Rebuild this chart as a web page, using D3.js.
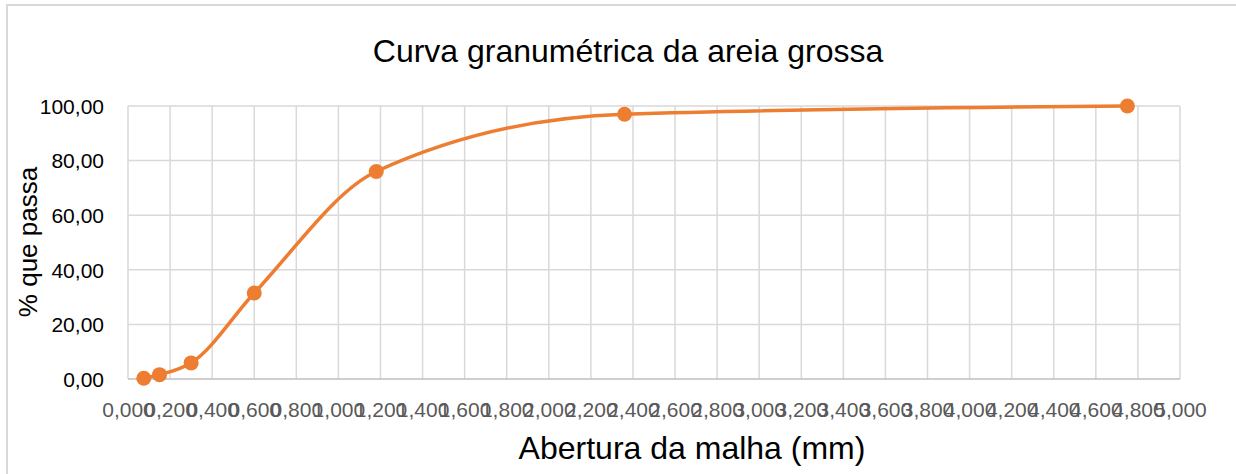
<!DOCTYPE html>
<html>
<head>
<meta charset="utf-8">
<script src="https://cdn.jsdelivr.net/npm/d3@7"></script>
<style>
  html, body { margin: 0; padding: 0; background: #fff; }
  svg { display: block; font-family: 'Liberation Sans', Arial, sans-serif; }
</style>
</head>
<body>
<svg id="chart" width="1236" height="474"></svg>
<script>
// abertura da malha (mm) e % que passa
const aberturas = [0.075, 0.15, 0.3, 0.6, 1.18, 2.36, 4.75];
const passantes = [0.3, 1.6, 5.9, 31.5, 76.0, 97.0, 100.0];
const xTicks = d3.range(0, 5.0001, 0.2);
const yTicks = [0, 20, 40, 60, 80, 100];

const pontos = aberturas.map((a, i) => ({ x: a, y: passantes[i] }));

const svg = d3.select('#chart');
const plotLeft = 128, plotRight = 1180, plotTop = 106, plotBottom = 379;

const x = d3.scaleLinear().domain([0, 5]).range([plotLeft, plotRight]);
const y = d3.scaleLinear().domain([0, 100]).range([plotBottom, plotTop]);
const fmt = (d, n) => d.toFixed(n).replace('.', ',');

// moldura do gráfico
svg.append('rect')
  .attr('x', 7).attr('y', 5)
  .attr('width', 1300).attr('height', 600)
  .attr('fill', 'none')
  .attr('stroke', '#d9d9d9')
  .attr('stroke-width', 2);

// grade
svg.append('g')
  .selectAll('line.vgrid')
  .data(xTicks)
  .enter()
  .append('line')
  .attr('class', 'vgrid')
  .attr('x1', (d) => x(d)).attr('x2', (d) => x(d))
  .attr('y1', plotTop).attr('y2', plotBottom)
  .attr('stroke', '#d9d9d9')
  .attr('stroke-width', 1.5);

svg.append('g')
  .selectAll('line.hgrid')
  .data(yTicks)
  .enter()
  .append('line')
  .attr('class', 'hgrid')
  .attr('x1', plotLeft).attr('x2', plotRight)
  .attr('y1', (d) => y(d)).attr('y2', (d) => y(d))
  .attr('stroke', (d) => (d === 0 ? '#bfbfbf' : '#d9d9d9'))
  .attr('stroke-width', 1.5);

// rótulos dos eixos
const xAxis = d3.axisBottom(x).tickValues(xTicks).tickSize(0).tickFormat((d) => fmt(d, 3));
svg.append('g')
  .attr('transform', `translate(0,${plotBottom})`)
  .call(xAxis)
  .call((g) => g.select('.domain').remove())
  .selectAll('text')
  .attr('dy', 0)
  .attr('y', 38)
  .attr('fill', '#595959')
  .attr('font-size', 21)
  .attr('font-family', "'Liberation Sans', Arial, sans-serif");

const yAxis = d3.axisLeft(y).tickValues(yTicks).tickSize(0).tickFormat((d) => fmt(d, 2));
svg.append('g')
  .attr('transform', `translate(${plotLeft},0)`)
  .call(yAxis)
  .call((g) => g.select('.domain').remove())
  .selectAll('text')
  .attr('x', -24)
  .attr('dy', '0.35em')
  .attr('fill', '#000')
  .attr('font-size', 21)
  .attr('font-family', "'Liberation Sans', Arial, sans-serif");

// curva suavizada
const linha = d3.line()
  .x((d) => x(d.x))
  .y((d) => y(d.y))
  .curve(d3.curveMonotoneX);

svg.append('path')
  .datum(pontos)
  .attr('d', linha)
  .attr('fill', 'none')
  .attr('stroke', '#ed7d31')
  .attr('stroke-width', 3.5)
  .attr('stroke-linecap', 'round');

svg.append('g')
  .selectAll('circle')
  .data(pontos)
  .enter()
  .append('circle')
  .attr('cx', (d) => x(d.x))
  .attr('cy', (d) => y(d.y))
  .attr('r', 7.5)
  .attr('fill', '#ed7d31');

// títulos
svg.append('text')
  .attr('x', 628).attr('y', 62)
  .attr('text-anchor', 'middle')
  .attr('font-size', 32)
  .attr('fill', '#000')
  .text('Curva granumétrica da areia grossa');

svg.append('text')
  .attr('x', 692).attr('y', 459)
  .attr('text-anchor', 'middle')
  .attr('font-size', 32)
  .attr('fill', '#000')
  .text('Abertura da malha (mm)');

svg.append('text')
  .attr('transform', 'translate(37,242) rotate(-90)')
  .attr('text-anchor', 'middle')
  .attr('font-size', 26)
  .attr('fill', '#000')
  .text('% que passa');
</script>
</body>
</html>
